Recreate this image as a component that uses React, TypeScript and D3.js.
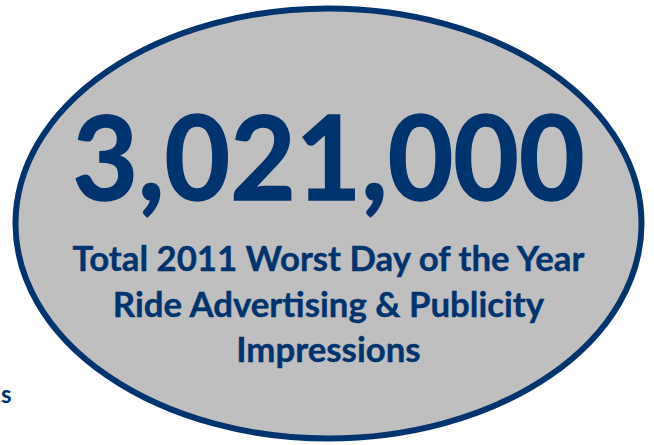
import React, { useEffect } from 'react';
import * as d3 from 'd3';

const totalImpressions = [3021000];
const captionLines = [
  'Total 2011 Worst Day of the Year',
  'Ride Advertising & Publicity',
  'Impressions',
];
const strayLabel = ['s'];

const width = 654;
const height = 445;
const navy = '#00346f';
const grey = '#bfbfbf';

export default function App() {
  useEffect(() => {
    document.body.style.margin = '0';
  }, []);

  const fmt = d3.format(',');
  const cx = 328.5;
  const cy = 223.5;

  // caption baselines
  const lineY = d3.scaleLinear().domain([0, 1]).range([271, 316.5]);

  return (
    <svg width={width} height={height} style={{ display: 'block' }}>
      <ellipse cx={cx} cy={cy} rx={313} ry={215} fill={grey} stroke={navy} strokeWidth={6} />
      <text
        x={cx}
        y={200}
        textAnchor="middle"
        fontFamily="Lato, 'Open Sans', sans-serif"
        fontWeight={700}
        fontSize={116}
        fill={navy}
        stroke={navy}
        strokeWidth={1.5}
        textLength={512}
        lengthAdjust="spacingAndGlyphs"
      >
        {fmt(totalImpressions[0])}
      </text>
      {captionLines.map((line, i) => (
        <text
          key={i}
          x={cx}
          y={lineY(i)}
          textAnchor="middle"
          fontFamily="Lato, 'Open Sans', sans-serif"
          fontWeight={700}
          fontSize={34.8}
          fill={navy}
          stroke={navy}
          strokeWidth={0.4}
        >
          {line}
        </text>
      ))}
      <text
        x={1}
        y={403}
        textAnchor="start"
        fontFamily="Lato, 'Open Sans', sans-serif"
        fontWeight={700}
        fontSize={24}
        fill={navy}
      >
        {strayLabel[0]}
      </text>
    </svg>
  );
}
